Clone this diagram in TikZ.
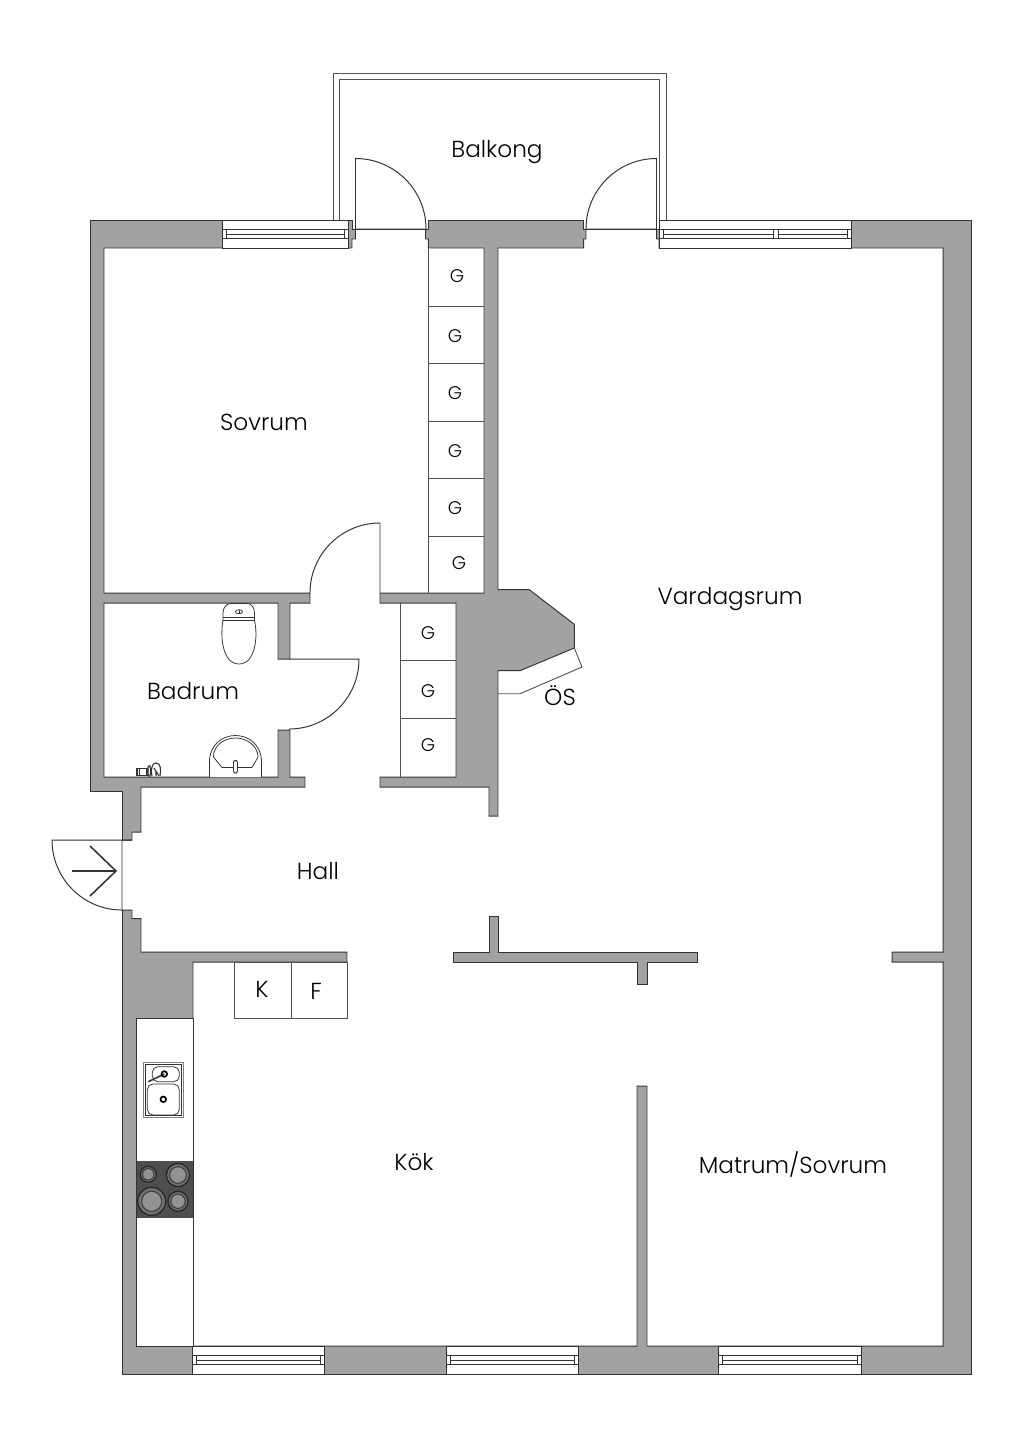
\documentclass[tikz,border=0pt]{standalone}
\usepackage{fontspec}
\setmainfont{Poppins}[UprightFont=* Light]
\usepackage{tikz}
\definecolor{wallgray}{HTML}{A2A2A2}
\definecolor{linedark}{HTML}{333333}
\definecolor{stovegray}{HTML}{4E4E4E}
\tikzset{
  wall/.style={fill=wallgray,draw=linedark,line width=0.7pt,line join=miter},
  room/.style={fill=white,draw=linedark,line width=0.7pt},
  door/.style={draw=linedark,line width=0.7pt},
  balcony/.style={draw=linedark!85,line width=0.7pt},
  thin wall/.style={draw=linedark!85,line width=0.65pt},
  furn/.style={draw=linedark,line width=0.55pt},
  roomname/.style={font=\fontsize{16.5}{20}\selectfont,text=black,inner sep=0pt},
  gname/.style={font=\fontsize{13}{15}\selectfont,text=black,inner sep=0pt},
  kname/.style={font=\fontsize{16.5}{18}\selectfont,text=black,inner sep=0pt},
}
\begin{document}
\begin{tikzpicture}[x=0.025cm,y=-0.025cm]
   \useasboundingbox (0,0) rectangle (1024,1448);
   \fill[white] (0,0) rectangle (1024,1448);

   \draw[balcony] (333,220) -- (333,73) -- (666,73) -- (666,220);
   \draw[balcony] (339.5,220) -- (339.5,79.5) -- (659.5,79.5) -- (659.5,220);

   \path[wall] (90,220) -- (352,220) -- (352,229) -- (428.3,229) -- (428.3,220)
      -- (583.7,220) -- (583.7,229) -- (659,229) -- (659,220) -- (971,220)
      -- (971,1374) -- (122,1374) -- (122,791) -- (90,791) -- cycle;

   \path[room] (498,248) -- (583.7,248) -- (583.7,239) -- (586,239) -- (586,229)
      -- (656.5,229) -- (656.5,239) -- (659,239) -- (659,248) -- (943,248)
      -- (943,952) -- (892,952) -- (892,962) -- (943,962) -- (943,1346)
      -- (647,1346) -- (647,1086) -- (637,1086) -- (637,1346) -- (193,1346)
      -- (193,962) -- (347,962) -- (347,952) -- (141,952) -- (141,918.5)
      -- (132,918.5) -- (132,910) -- (122,910) -- (122,840) -- (132,840)
      -- (132,832) -- (141,832) -- (141,787) -- (305,787) -- (305,777)
      -- (290,777) -- (290,730) -- (278,730) -- (278,777) -- (104,777)
      -- (104,603) -- (278,603) -- (278,659) -- (290,659) -- (290,603)
      -- (310,603) -- (310,593) -- (104,593) -- (104,248) -- (348,248)
      -- (352,248) -- (352,239) -- (355.5,239) -- (355.5,229) -- (425.7,229)
      -- (425.7,239) -- (428.3,239) -- (428.3,248) -- (484,248) -- (484,593)
      -- (380,593) -- (380,603) -- (456,603) -- (456,777) -- (380,777)
      -- (380,787) -- (489,787) -- (489,816) -- (498,816) -- (498,693.7)
      -- (498,670.7) -- (520,670.7) -- (574.3,648) -- (574.3,624.3)
      -- (529.3,589.7) -- (498,589.7) -- cycle;

   \path[room] (136,1018) rectangle (193,1346);

   \path[wall] (453,952) -- (489,952) -- (489,916) -- (498,916) -- (498,952)
      -- (697,952) -- (697,962) -- (647,962) -- (647,984) -- (637,984)
      -- (637,962) -- (453,962) -- cycle;

   \draw[door,line width=0.9pt] (352,229.4) -- (428.3,229.4) (583.7,229.4) -- (659,229.4);

   \draw[thin wall] (574.3,648) -- (582,667) -- (520,693.7) -- (498,693.7);

   \draw[thin wall] (428.5,248) -- (428.5,593);
   \foreach \yy in {306,363,421,478,536}
      \draw[thin wall] (428.5,\yy) -- (484,\yy);
   \draw[thin wall] (400,603) -- (400,777);
   \foreach \yy in {660.7,718.7}
      \draw[thin wall] (400,\yy) -- (456,\yy);

   \foreach \xa/\xb/\ya in {222.5/348/220,659/851/220,192.5/324/1346,446.7/578.3/1346,718/861/1346}{
      \draw[room] (\xa,\ya) rectangle (\xb,\ya+28);
      \draw[furn] (\xa,\ya+9.5) -- (\xb,\ya+9.5);
      \draw[furn] (\xa,\ya+18.5) -- (\xb,\ya+18.5);
      \draw[furn] (\xa+4,\ya+14) -- (\xb-4,\ya+14);
      \draw[furn] (\xa+4,\ya+9.5) -- (\xa+4,\ya+18.5);
      \draw[furn] (\xb-4,\ya+9.5) -- (\xb-4,\ya+18.5);
   }
   \draw[furn,fill=white] (773,229.5) rectangle (778,238.5);

   \draw[door] (380,593) -- (380,523) arc[start angle=90,end angle=180,radius=1.75cm];
   \draw[door] (290,659) -- (359,659) arc[start angle=0,end angle=-90,radius=1.75cm];
   \draw[door] (355.5,229) -- (355.5,158.5) arc[start angle=90,end angle=0,radius=1.7625cm];
   \draw[door] (656.5,229) -- (656.5,158.5) arc[start angle=90,end angle=180,radius=1.7625cm];
   \draw[door] (132,840) -- (52,840) arc[start angle=180,end angle=270,radius=1.75cm];
   \draw[line width=1.1pt,draw=linedark] (72,871) -- (116,871) (90,846) -- (116,871) -- (90,896);

   \draw[furn,fill=white] (223,620.5) -- (223,613) .. controls (223,607) and (227,603.5) .. (231,603.5)
      -- (247,603.5) .. controls (251,603.5) and (254.5,607) .. (254.5,613) -- (254.5,620.5) -- cycle;
   \draw[furn,fill=white] (223,620.5) .. controls (220,635) and (222,664) .. (239,664)
      .. controls (256,664) and (258,635) .. (254.5,620.5) -- cycle;
   \draw[furn] (223,617.5) -- (254.5,617.5);
   \draw[furn] (239,611.7) ellipse[x radius=0.09cm,y radius=0.05cm];
   \draw[furn] (239,609.8) -- (239,613.6);

   \draw[furn,fill=white] (209.5,777) -- (209.5,762) .. controls (209.5,745) and (222,735.5) .. (235.5,735.5)
      .. controls (249,735.5) and (261.5,745) .. (261.5,762) -- (261.5,777);
   \draw[furn] (213.5,757) .. controls (213,746) and (224,738) .. (235.5,738)
      .. controls (247,738) and (258,746) .. (258,757) -- (252,767.5) -- (222,767.5) -- cycle;
   \draw[furn,fill=white,rounded corners=1.5pt] (233.5,760.5) rectangle (237.5,773);

   \draw[furn,line width=0.8pt,fill=white] (137,768.5) rectangle (147,775.5);
   \draw[furn] (139.5,768.5) -- (139.5,775.5);
   \draw[furn,line width=0.8pt,fill=white,rounded corners=1pt] (148,766) rectangle (150.5,776);
   \draw[furn,line width=0.8pt,fill=white] (152,776) .. controls (150,768) and (153,763) .. (156,763)
      .. controls (161,763) and (161,770) .. (160,776);
   \draw[furn,line width=0.8pt] (154,768) -- (159,776) (156,776) -- (156,771);

   \draw[furn,line width=1pt,draw=gray] (143.5,1062.5) rectangle (183.5,1117.5);
   \draw[furn] (145.5,1064.5) rectangle (181.5,1115.5);
   \draw[furn,rounded corners=4pt] (152.3,1066.7) rectangle (179.3,1081.7);
   \draw[furn,rounded corners=4pt] (147.3,1084) rectangle (179.3,1115);
   \draw[line width=1.1pt,draw=linedark] (148.3,1081.7) -- (164.3,1074);
   \draw[line width=1.2pt,draw=black] (164.3,1074) circle[radius=0.07cm];
   \draw[line width=1.2pt,draw=black] (163.3,1099.3) circle[radius=0.07cm];

   \fill[stovegray] (136.5,1161) rectangle (193,1217.7);
   \foreach \xc/\yc/\rr in {148.3/1174.3/0.2,178/1175/0.29,151.7/1201.3/0.35,178/1201.3/0.25}{
      \draw[fill=wallgray!70!black,draw=black!85,line width=0.9pt] (\xc,\yc) circle[radius=\rr cm];
      \draw[fill=wallgray!90!black,draw=black!75,line width=0.8pt] (\xc,\yc) circle[radius=\rr*0.72 cm];
   }

   \draw[thin wall,fill=white] (234.5,962) rectangle (291,1018);
   \draw[thin wall,fill=white] (291,962) rectangle (347,1018);

   \node[roomname] (balkong) at (497,152) {Balkong};
   \node[roomname] (sovrum) at (264,422) {Sovrum};
   \node[roomname] (vardagsrum) at (730,599) {Vardagsrum};
   \node[roomname] (badrum) at (193,691) {Badrum};
   \node[roomname] (oes) at (560,696) {ÖS};
   \node[roomname] (hall) at (318,871) {Hall};
   \node[roomname] (koek) at (414,1162) {Kök};
   \node[roomname] (matrum) at (793,1165) {Matrum/Sovrum};
   \node[kname] (kyl) at (262,989) {K};
   \node[kname] (frys) at (316,991) {F};
   \foreach \nn/\xc/\yc in {a/457/276,b/455/336,c/455/393,d/455/451,e/455/508,f/459/563,g/428/633,h/428/691,i/428/745}
      \node[gname] (g\nn) at (\xc,\yc) {G};
\end{tikzpicture}
\end{document}
